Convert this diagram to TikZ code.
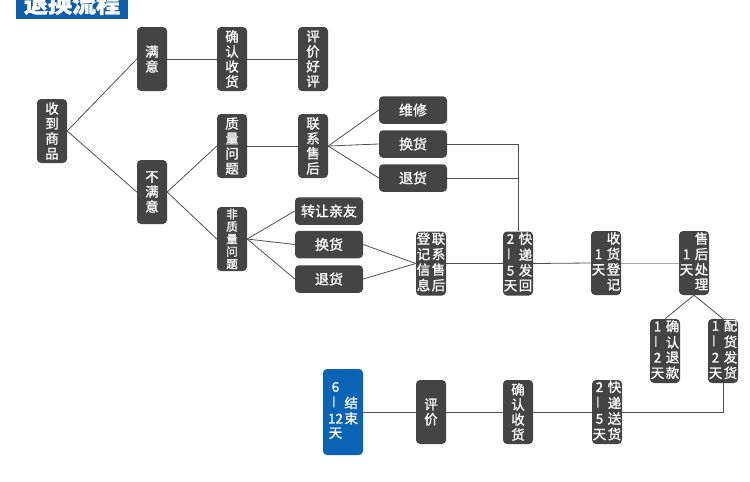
\documentclass[tikz,border=0pt]{standalone}
\usepackage{fontspec}
\newfontfamily\cjk{Noto Sans CJK SC}[FakeBold=1.2]
\newfontfamily\cjktitle{Noto Sans CJK SC Bold}
\definecolor{boxgray}{HTML}{444444}
\definecolor{endblue}{HTML}{0B63B6}
\definecolor{titleblue}{HTML}{0F5EAC}
\definecolor{linegray}{HTML}{505050}
\newcommand{\vdsh}{\rotatebox{90}{—}}
\newcommand{\twocol}[1]{{\renewcommand{\arraystretch}{0.92}\begin{tabular}{@{}c@{\hspace{1.5pt}}c@{}}#1\end{tabular}}}
\tikzset{
  box/.style={fill=boxgray, text=white, rounded corners=4pt, inner sep=0pt,
    font=\cjk\fontsize{13.5}{15}\selectfont, align=center},
  vbox/.style={box, minimum width=30pt, minimum height=64pt},
  hbox/.style={box, minimum width=68pt, minimum height=27.5pt, font=\cjk\fontsize{14}{16}\selectfont},
  conn/.style={draw=linegray, line width=0.8pt},
}
\begin{document}
\begin{tikzpicture}[x=1pt,y=-1pt]
\useasboundingbox (0,0) rectangle (750,482);
% title
\fill[titleblue] (16,-2) rectangle (128,18.5);
\node[text=white, font=\cjk\bfseries\fontsize{24}{26}\selectfont, inner sep=0pt] (title) at (72,3.5) {退换流程};

% nodes
\node[vbox] (recv) at (52,131) {收\\到\\商\\品};
\node[vbox] (sat) at (152,59) {满\\意};
\node[vbox] (conf1) at (232,59) {确\\认\\收\\货};
\node[vbox] (good) at (313,59) {评\\价\\好\\评};
\node[vbox] (unsat) at (152,192) {不\\满\\意};
\node[vbox] (qual) at (232,146) {质\\量\\问\\题};
\node[vbox] (contact) at (313,146) {联\\系\\售\\后};
\node[vbox, font=\cjk\fontsize{11.5}{12.5}\selectfont] (nqual) at (232,239) {非\\质\\量\\问\\题};
\node[hbox] (repair) at (413,110) {维修};
\node[hbox] (exch1) at (413,144) {换货};
\node[hbox] (ret1) at (413,178) {退货};
\node[hbox] (give) at (329,211) {转让亲友};
\node[hbox] (exch2) at (329,244.5) {换货};
\node[hbox] (ret2) at (329,279) {退货};
\node[vbox] (reg) at (431,263.5) {\twocol{登&联\\记&系\\信&售\\息&后}};
\node[vbox] (ship1) at (518,263.5) {\twocol{2&快\\\vdsh&递\\5&发\\天&回}};
\node[vbox] (rcvreg) at (606,263) {\twocol{&收\\1&货\\天&登\\&记}};
\node[vbox] (after) at (694,263) {\twocol{&售\\1&后\\天&处\\&理}};
\node[vbox] (refund) at (665,351) {\twocol{1&确\\\vdsh&认\\2&退\\天&款}};
\node[vbox] (deliver) at (723,351) {\twocol{1&配\\\vdsh&货\\2&发\\天&货}};
\node[vbox] (ship2) at (607,412) {\twocol{2&快\\\vdsh&递\\5&送\\天&货}};
\node[vbox] (conf2) at (518,412) {确\\认\\收\\货};
\node[vbox] (rate) at (431,412) {评\\价};
\node[vbox, fill=endblue, minimum width=40pt, minimum height=86pt] (end) at (343,412) {\twocol{6&\\\vdsh&结\\12&束\\天&}};

% connectors
\draw[conn] (recv.east) -- (sat.west);
\draw[conn] (recv.east) -- (unsat.west);
\draw[conn] (sat.east) -- (conf1.west);
\draw[conn] (conf1.east) -- (good.west);
\draw[conn] (unsat.east) -- (qual.west);
\draw[conn] (unsat.east) -- (nqual.west);
\draw[conn] (qual.east) -- (contact.west);
\draw[conn] (contact.east) -- (repair.west);
\draw[conn] (contact.east) -- (exch1.west);
\draw[conn] (contact.east) -- (ret1.west);
\draw[conn] (nqual.east) -- (give.west);
\draw[conn] (nqual.east) -- (exch2.west);
\draw[conn] (nqual.east) -- (ret2.west);
\draw[conn] (exch2.east) -- (reg.west);
\draw[conn] (ret2.east) -- (reg.west);
\draw[conn] (exch1.east) -| (ship1.north);
\draw[conn] (ret1.east) -- (ship1.north |- ret1.east);
\draw[conn] (reg.east) -- (ship1.west);
\draw[conn] (ship1.east) -- (rcvreg.west);
\draw[conn, draw=gray!70] (rcvreg.east) -- (after.west);
\draw[conn] (after.south) -- (refund.north);
\draw[conn] (after.south) -- (deliver.north);
\draw[conn] (deliver.south) |- (ship2.east);
\draw[conn] (ship2.west) -- (conf2.east);
\draw[conn] (conf2.west) -- (rate.east);
\draw[conn] (rate.west) -- (end.east);
\end{tikzpicture}
\end{document}
